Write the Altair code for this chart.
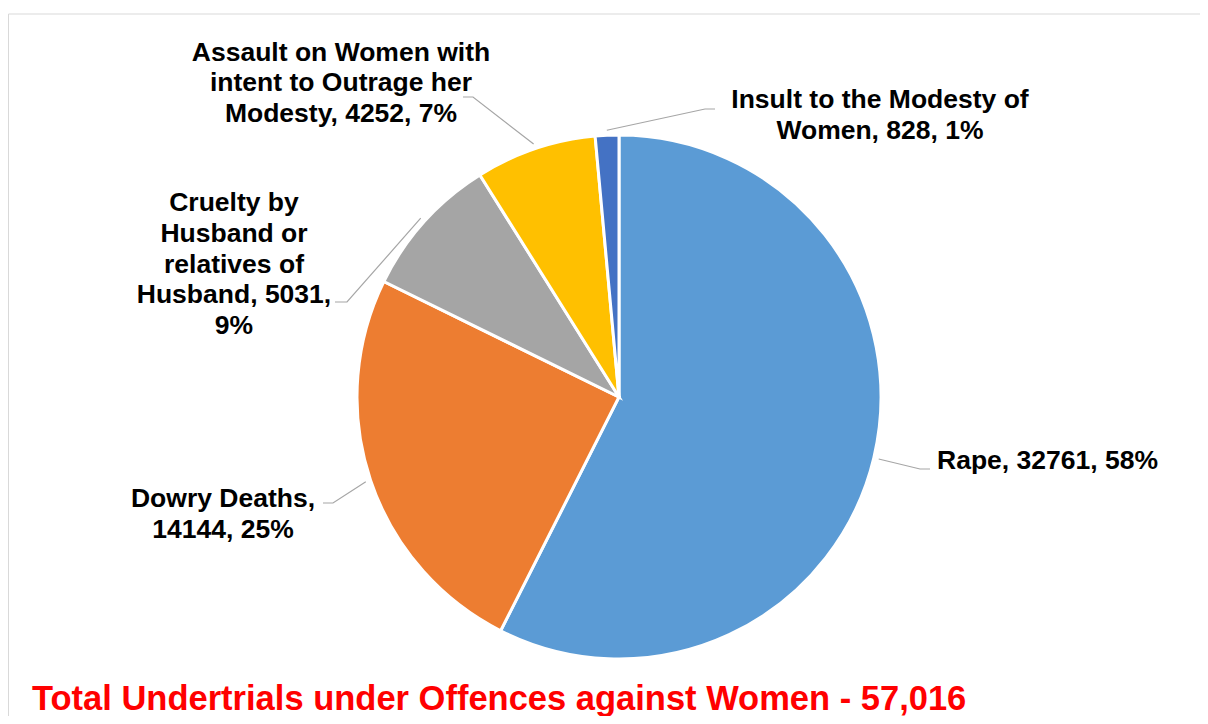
import math
import textwrap
import altair as alt
import pandas as pd

# ---------------- data ----------------
categories = [
    "Rape",
    "Dowry Deaths",
    "Cruelty by Husband or relatives of Husband",
    "Assault on Women with intent to Outrage her Modesty",
    "Insult to the Modesty of Women",
]
counts = [32761, 14144, 5031, 4252, 828]
percents = [58, 25, 9, 7, 1]
colors = ["#5B9BD5", "#ED7D31", "#A5A5A5", "#FFC000", "#4472C4"]
title_text = "Total Undertrials under Offences against Women - 57,016"

# ---------------- layout ----------------
W, H = 1192, 708
CX, CY, R = 611, 389, 262
FONT = "Liberation Sans"
LABEL_SIZE = 26.5
LINE_H = 30.8
wrap_widths = [30, 13, 14, 21, 24]
label_xy = [(929, 461), (215, 499), (226, 203), (333, 52.5), (872, 100)]
label_align = ["left", "center", "center", "center", "center"]
elbows = [
    [(912, 461), (922, 461)],
    [(325, 495), (315, 495)],
    [(339, 294), (327, 294)],
    [(465, 89), (455, 89)],
    [(697, 101), (707, 101)],
]

total = sum(counts)
df = pd.DataFrame({
    "category": categories,
    "count": counts,
    "idx": list(range(len(categories))),
})

# labels
lab_rows = []
for i, c in enumerate(categories):
    full = f"{c}, {counts[i]}, {percents[i]}%"
    text = "\n".join(textwrap.wrap(full, wrap_widths[i]))
    lab_rows.append({"text": text, "x": label_xy[i][0], "y": label_xy[i][1],
                     "align": label_align[i]})
lab_df = pd.DataFrame(lab_rows)

# leader lines: start at slice mid-angle just outside the pie
lead_rows = []
cum = 0
for i, v in enumerate(counts):
    mid = (cum + v / 2) / total
    cum += v
    ang = 2 * math.pi * mid
    sx = CX + (R + 5) * math.sin(ang)
    sy = CY - (R + 5) * math.cos(ang)
    pts = [(sx, sy)] + elbows[i]
    for k, (px, py) in enumerate(pts):
        lead_rows.append({"g": i, "k": k, "x": px, "y": py})
lead_df = pd.DataFrame(lead_rows)

pie = alt.Chart(df).mark_arc(radius=R, stroke="white", strokeWidth=3).encode(
    theta=alt.Theta("count:Q", stack=True),
    color=alt.Color("category:N", scale=alt.Scale(domain=categories, range=colors),
                    sort=None, legend=None),
    order=alt.Order("idx:Q"),
    x=alt.value(CX),
    y=alt.value(CY),
)

leaders = alt.Chart(lead_df).mark_line(color="#A6A6A6", strokeWidth=1.2).encode(
    x=alt.X("x:Q", scale=None),
    y=alt.Y("y:Q", scale=None),
    detail="g:N",
    order="k:Q",
)

def text_layer(align):
    return alt.Chart(lab_df).transform_filter(
        alt.datum.align == align
    ).mark_text(
        align=align, baseline="alphabetic", lineBreak="\n", lineHeight=LINE_H,
        font=FONT, fontSize=LABEL_SIZE, fontWeight="bold", color="#000000",
    ).encode(
        x=alt.X("x:Q", scale=None),
        y=alt.Y("y:Q", scale=None),
        text="text:N",
    )

one = pd.DataFrame({"t": [title_text]})
title = alt.Chart(one).mark_text(
    align="left", baseline="alphabetic", font=FONT, fontSize=34.5,
    fontWeight="bold", color="#FF0000",
).encode(x=alt.value(24), y=alt.value(702), text="t:N")

border_v = alt.Chart(one).mark_rule(color="#D9D9D9", strokeWidth=1).encode(
    x=alt.value(0.5), y=alt.value(6), y2=alt.value(760))
border_h = alt.Chart(one).mark_rule(color="#D9D9D9", strokeWidth=1).encode(
    x=alt.value(0.5), x2=alt.value(1300), y=alt.value(6))

chart = alt.layer(
    border_v, border_h, pie, leaders, text_layer("left"), text_layer("center"), title
).properties(
    width=W, height=H, padding=0,
    autosize=alt.AutoSizeParams(type="fit", contains="padding"),
    background="white",
).configure_view(strokeWidth=0)

chart.save("out.html", embed_options={"renderer": "svg", "actions": False})
